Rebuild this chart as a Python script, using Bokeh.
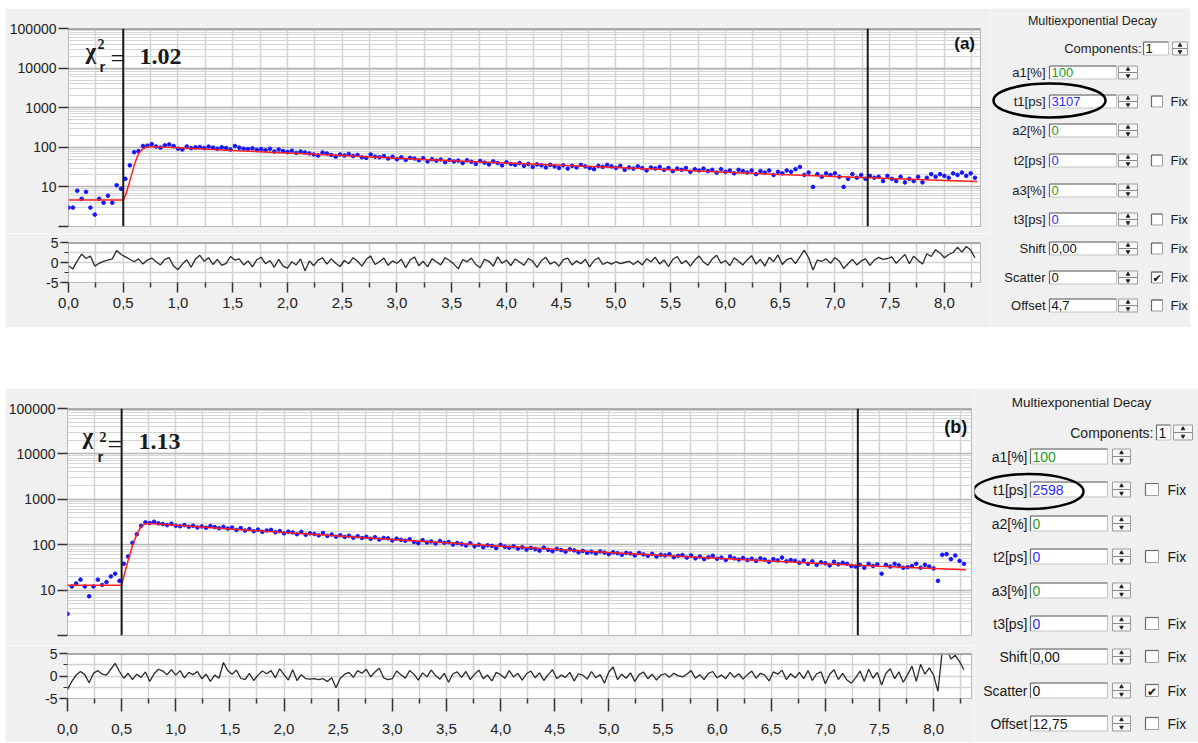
from bokeh.plotting import figure
from bokeh.models import Range1d, FixedTicker, Grid, Span, Label, Spacer, NumeralTickFormatter
from bokeh.layouts import column, row
from bokeh.embed import file_html
from bokeh.resources import INLINE
from bokeh.core.properties import value

# ---------------- data ----------------
channel_ns = 0.04

counts_a = [3, 3, 8, 5, 7.5, 3, 2, 5, 4, 6, 4, 11, 9,
            16, 35, 75, 80, 108, 110, 120, 105, 98, 112, 118, 108, 92,
            88, 105, 95, 100, 102, 95, 104, 98, 92, 100, 96, 88, 108,
            98, 92, 90, 94, 86, 90, 84, 92, 78, 88, 80, 76, 82,
            72, 78, 74, 70, 66, 62, 74, 70, 64, 58, 66, 62, 68,
            60, 64, 56, 54, 66, 58, 56, 60, 52, 58, 50, 56, 48,
            54, 52, 47, 53, 44, 50, 46, 49, 42, 48, 44, 46, 40,
            47, 43, 38, 45, 41, 37, 44, 40, 35, 42, 38, 36, 40,
            34, 38, 32, 37, 35, 31, 36, 33, 30, 35, 29, 34, 31,
            36, 33, 30, 28, 34, 32, 36, 33, 30, 34, 27, 31, 29,
            33, 30, 26, 31, 29, 32, 27, 30, 25, 29, 27, 30, 24,
            28, 26, 29, 25, 27, 23, 28, 24, 26, 22, 27, 25, 23,
            26, 21, 25, 23, 26, 20, 24, 22, 26, 24, 28, 32, 20,
            23, 10, 21, 18, 22, 20, 22, 18, 10, 16, 21, 17, 20,
            16, 19, 17, 18, 14, 19, 16, 14, 18, 13, 16, 14, 18,
            13, 17, 21, 18, 21, 19, 17, 22, 20, 23, 19, 22, 17]

counts_b = [3, 12, 14, 17, 12, 7.3, 12, 17, 13, 15, 20, 23, 16,
            38, 55, 110, 170, 260, 310, 300, 320, 295, 285, 270, 290, 262,
            255, 270, 248, 262, 240, 252, 236, 258, 244, 230, 248, 226, 238,
            210, 232, 205, 222, 198, 215, 192, 206, 212, 188, 200, 178, 194,
            186, 170, 192, 165, 178, 172, 160, 182, 156, 168, 150, 162, 148,
            158, 142, 154, 140, 149, 135, 146, 130, 141, 138, 124, 136, 128,
            122, 132, 115, 108, 126, 112, 118, 106, 121, 110, 114, 101, 109,
            104, 96, 108, 92, 100, 88, 97, 94, 84, 99, 90, 86, 92,
            82, 88, 78, 85, 80, 74, 86, 77, 72, 81, 76, 70, 79,
            75, 68, 73, 66, 70, 64, 71, 67, 62, 68, 65, 60, 66,
            64, 58, 66, 61, 57, 63, 55, 60, 58, 62, 53, 57, 59,
            52, 58, 50, 55, 48, 53, 57, 49, 52, 46, 55, 50, 47,
            51, 46, 49, 44, 50, 47, 42, 48, 45, 52, 43, 46, 44,
            40, 45, 38, 43, 36, 41, 39, 35, 42, 37, 40, 38, 34,
            33, 36, 31, 38, 34, 37, 23, 36, 33, 38, 35, 31, 32,
            34, 38, 31, 36, 33, 30, 16, 60, 62, 48, 58, 44, 38]

resid_a = [-0.8, -1.6, 0.4, 2.1, 1.0, 1.6, -0.9, -0.2, 0.3, 0.6, 0.9, 3.0, 2.0,
           1.4, 0.8, 0.2, 0.9, -0.4, 0.6, 1.1, 0.2, -0.6, 0.8, 1.2, -0.9, -1.8,
           -0.4, 0.7, -1.2, 0.9, 1.8, 0.3, 1.2, -0.5, 0.8, -0.7, -0.2, 1.5, 0.6,
           0.9, -0.6, 0.4, -1.1, 0.7, 1.3, -0.3, 0.5, -1.2, 0.8, -0.9, -1.4, 0.2,
           -0.6, 0.9, -2.1, 0.4, -0.8, 0.6, 1.2, -0.4, 0.9, -0.2, -1.0, 0.5, -0.3,
           1.2, 0.3, -0.9, 0.8, 1.6, -0.5, 0.2, 1.1, -0.7, 0.4, -0.2, 0.8, -1.3,
           0.6, 1.4, -0.8, 0.3, -1.1, 0.9, 0.2, -0.6, 1.2, 0.5, -0.4, -1.6, 0.7,
           0.2, 1.1, -0.5, -1.3, 0.8, 0.3, -0.9, 1.4, -0.2, 0.6, -0.8, 0.9, 0.1,
           -0.7, 1.0, 0.3, -1.2, 0.5, 1.3, -0.4, 0.2, -0.9, 0.7, 1.1, -0.6, 0.4,
           -0.3, 0.8, -1.1, 0.5, 1.2, -0.5, 0.1, -0.4, 0.2, -0.3, 0.0, 0.3, -0.5,
           0.4, -0.6, 0.9, 0.2, 1.3, -0.4, 0.6, -1.0, 0.8, 1.5, -0.3, 0.5, -0.9,
           0.6, 1.6, 0.1, -0.7, 0.9, 1.8, -0.2, 0.5, -0.8, 1.2, 0.3, -0.6, 0.7,
           1.7, -0.4, 0.8, -0.9, 1.3, 0.2, 1.9, -0.5, 0.7, 1.1, -0.3, 1.4, 3.1,
           1.2, -1.9, 0.6, 0.3, 0.9, -0.2, 1.2, 0.4, -1.5, -0.3, 0.8, -0.6, 0.4,
           0.9, -0.7, 0.6, 1.3, 0.8, 1.0, 1.4, -0.2, 0.9, 2.0, -0.3, 1.6, 0.5,
           -0.4, 2.2, 1.5, 3.2, 2.4, 1.2, 2.0, 2.5, 3.8, 2.6, 4.0, 3.1, 1.2]

resid_b = [-3.0, -1.2, 0.2, 1.0, 0.3, -1.5, 0.6, 1.2, 0.4, 0.2, 1.5, 2.8, 1.0,
           -0.5, 0.6, -0.8, 0.4, -0.3, 0.9, -1.2, 0.5, 1.5, 1.1, 0.3, 1.4, 0.2,
           1.2, -0.4, 0.8, 0.3, 1.0, -0.6, 0.4, -1.2, 0.2, -0.5, 3.0, 1.2, 0.4,
           1.3, -0.5, -0.8, 0.6, -1.0, 0.2, 1.1, 0.5, 1.2, -0.4, 1.6, 0.3, -0.9,
           1.4, -1.0, 0.3, -0.6, -0.7, -0.6, -0.8, -0.6, -1.2, -0.4, -2.6, -0.5, 0.4,
           0.8, -0.3, 1.2, 0.6, 1.5, -0.2, 0.9, 1.7, -0.4, -0.8, -0.6, 1.1, 0.3,
           -0.5, 1.2, 0.4, -0.9, 0.7, -0.2, 1.3, 0.1, -0.7, 0.6, -1.4, 0.5, 0.9,
           -0.3, 1.0, -0.8, 0.4, 1.3, -0.6, 0.2, -1.1, 0.8, 0.3, -0.5, 1.2, -0.2,
           0.6, -0.9, 0.5, 1.1, -0.4, 0.7, -1.0, 0.3, 1.4, -0.6, 0.2, -0.3, 0.8,
           -1.1, 0.5, 0.2, -0.7, 1.0, -0.4, 0.3, -1.6, 0.9, 2.0, -0.8, 0.4, -0.5,
           0.7, -1.2, 0.3, 0.9, -0.6, 0.4, -0.9, 0.2, 0.5, -0.3, 0.6, 0.1, -0.2,
           0.4, 1.2, -0.5, 0.3, -0.8, 0.6, 1.0, -0.4, 0.2, -0.6, 0.8, -0.3, 0.5,
           -0.7, 0.3, 1.1, -0.5, 0.6, 0.2, -1.1, 0.9, 0.4, 1.3, -0.8, 0.5, -0.4,
           0.8, -0.6, 1.2, -1.0, 0.5, 0.9, -1.7, 0.4, 1.4, -0.8, 0.6, -0.9, -1.6,
           -0.4, 1.1, -1.2, 1.5, -0.5, 0.8, -2.0, 0.6, 1.6, -0.6, 0.9, -1.4, 0.3,
           2.2, -1.2, 2.6, 0.4, 1.8, 0.2, -3.4, 5.6, 6.0, 3.8, 4.6, 3.2, 1.4]

fit_t = [0.0, 0.5, 0.52, 0.56, 0.6, 0.64, 0.68, 0.72, 0.76, 1.0, 1.5, 2.0, 2.5, 3.0,
         3.5, 4.0, 4.5, 5.0, 5.5, 6.0, 6.5, 7.0, 7.5, 8.0, 8.3]
fit_a = [4.7, 4.7, 6, 14, 35, 70, 92, 102, 104, 97, 83, 72, 62, 53,
         46, 40, 35, 31, 27, 23.5, 20.5, 18.2, 16.2, 14.5, 13.6]
fit_b = [12.75, 12.75, 20, 45, 95, 170, 250, 290, 292, 267, 222, 186, 156, 130,
         110, 93, 79, 67, 58, 50, 43.5, 38, 33.6, 30, 28.2]

cursors_ns = [0.5, 7.3]
chi2_a = "1.02"
chi2_b = "1.13"

x_ticks = [0.0, 0.5, 1.0, 1.5, 2.0, 2.5, 3.0, 3.5, 4.0, 4.5, 5.0, 5.5, 6.0, 6.5, 7.0, 7.5, 8.0]
x_tick_labels = ["0,0", "0,5", "1,0", "1,5", "2,0", "2,5", "3,0", "3,5", "4,0", "4,5",
                 "5,0", "5,5", "6,0", "6,5", "7,0", "7,5", "8,0"]
x_minor = [0.25, 0.75, 1.25, 1.75, 2.25, 2.75, 3.25, 3.75, 4.25, 4.75, 5.25, 5.75,
           6.25, 6.75, 7.25, 7.75, 8.25]
y_ticks = [1, 10, 100, 1000, 10000, 100000]
y_tick_labels = ["", "10", "100", "1000", "10000", "100000"]
res_ticks = [-5, 0, 5]
res_tick_labels = ["-5", "0", "5"]
res_minor = [-2.5, 2.5]

param_names = ["a1[%]", "t1[ps]", "a2[%]", "t2[ps]", "a3[%]", "t3[ps]", "Shift", "Scatter", "Offset"]
params_a = ["100", "3107", "0", "0", "0", "0", "0,00", "0", "4,7"]
params_b = ["100", "2598", "0", "0", "0", "0", "0,00", "0", "12,75"]
param_colors = ["#1e9b1e", "#2b2bff", "#1e9b1e", "#2b2bff", "#1e9b1e", "#2b2bff", "#111111", "#111111", "#111111"]
has_fix = [False, True, False, True, False, True, True, True, True]
fix_checked = [False, False, False, False, False, False, False, True, False]
components = "1"

# ---------------- styling ----------------
GRAY = "#f0f0f0"
FONT = "Liberation Sans"
SERIF = "Liberation Serif"
y_minor = [m * 10 ** k for k in range(5) for m in range(2, 10)]


def vgrid():
    return Grid(dimension=0, ticker=FixedTicker(ticks=x_ticks, minor_ticks=x_minor),
                grid_line_color="#d2d2d2", grid_line_width=1.5,
                minor_grid_line_color="#d2d2d2", minor_grid_line_width=1.5)


def make_main(width, height, bl, br, bt, bb, xr, counts, fitv, chi, tag, geo):
    t = [round(i * channel_ns, 3) for i in range(len(counts))]
    p = figure(width=width, height=height, x_range=xr, y_range=Range1d(1, 1e5),
               y_axis_type="log", x_axis_location=None, output_backend="svg",
               toolbar_location=None, min_border_left=bl, min_border_right=br,
               min_border_top=bt, min_border_bottom=bb, background_fill_color="white",
               border_fill_color=GRAY, outline_line_color="#b8b8b8")
    p.grid.visible = False
    p.add_layout(vgrid(), "center")
    p.add_layout(Grid(dimension=1, ticker=FixedTicker(ticks=y_ticks, minor_ticks=y_minor),
                      grid_line_color="#b4b4b4", grid_line_width=1.5,
                      minor_grid_line_color="#d6d6d6", minor_grid_line_width=1), "center")
    ya = p.yaxis[0]
    ya.ticker = FixedTicker(ticks=y_ticks, minor_ticks=[])
    ya.formatter = NumeralTickFormatter(format="0")
    ya.major_label_overrides = dict(zip(y_ticks, y_tick_labels))
    ya.major_tick_out = 10
    ya.major_tick_in = 0
    ya.minor_tick_line_color = None
    ya.axis_line_color = None
    ya.major_tick_line_color = "#333333"
    ya.major_tick_line_width = 1.5
    ya.major_label_text_font = FONT
    ya.major_label_text_font_size = "14px"
    ya.major_label_text_color = "#222222"
    ya.major_label_standoff = 2

    p.add_layout(Span(location=1e5, dimension="width", line_color="#a4a4a4", line_width=3))
    for c in cursors_ns:
        p.add_layout(Span(location=c, dimension="height", line_color="#1a1a1a", line_width=2))

    p.scatter(t, counts, size=3.6, color="#1414ff")
    p.line(fit_t, fitv, color="#ff1e1e", line_width=1.5)

    cx, cy = geo["chi"]
    p.add_layout(Label(x=cx, y=cy, text="χ", text_font=SERIF, text_font_style="bold",
                       text_font_size="23px", text_color="#1a1a1a"))
    p.add_layout(Label(x=cx, y=cy, x_offset=geo["sup"][0], y_offset=geo["sup"][1], text="2",
                       text_font=SERIF, text_font_size="14px", text_font_style="bold",
                       text_color="#1a1a1a"))
    p.add_layout(Label(x=cx, y=cy, x_offset=geo["sub"][0], y_offset=geo["sub"][1], text="r",
                       text_font=FONT, text_font_size="15px", text_font_style="bold",
                       text_color="#1a1a1a"))
    p.add_layout(Label(x=cx, y=cy, x_offset=geo["eq"][0], y_offset=geo["eq"][1], text="=",
                       text_font=SERIF, text_font_size="26px", text_color="#1a1a1a"))
    p.add_layout(Label(x=cx, y=cy, x_offset=geo["val"], y_offset=0, text=chi,
                       text_font=SERIF, text_font_size="24px", text_font_style="bold",
                       text_color="#1a1a1a"))
    tx, ty = geo["tag"]
    p.add_layout(Label(x=tx, y=ty, text=tag, text_align="right", text_font=FONT,
                       text_font_style="bold", text_font_size=geo["tag_fs"], text_color="#111111"))
    return p


def make_resid(width, height, bl, br, bt, bb, xr, resid, geo):
    t = [round(i * channel_ns, 3) for i in range(len(resid))]
    r = figure(width=width, height=height, x_range=xr, y_range=Range1d(-5, 5),
               output_backend="svg", toolbar_location=None, min_border_left=bl,
               min_border_right=br, min_border_top=bt, min_border_bottom=bb,
               background_fill_color="white", border_fill_color=GRAY,
               outline_line_color="#b8b8b8")
    r.grid.visible = False
    r.add_layout(vgrid(), "center")
    r.add_layout(Grid(dimension=1, ticker=FixedTicker(ticks=res_ticks, minor_ticks=res_minor),
                      grid_line_color="#d2d2d2", grid_line_width=1.5,
                      minor_grid_line_color="#d2d2d2", minor_grid_line_width=1.5), "center")
    r.add_layout(Span(location=5, dimension="width", line_color="#a4a4a4", line_width=3))
    r.line(t, resid, color="#2a2a2a", line_width=1.3)

    xa = r.xaxis[0]
    xa.ticker = FixedTicker(ticks=x_ticks, minor_ticks=x_minor)
    xa.major_label_overrides = dict(zip(x_ticks, x_tick_labels))
    xa.axis_line_color = None
    xa.major_tick_in = 0
    xa.major_tick_out = geo["xtick"]
    xa.minor_tick_in = 0
    xa.minor_tick_out = 5
    xa.major_tick_line_color = "#333333"
    xa.minor_tick_line_color = "#333333"
    xa.major_tick_line_width = 1.5
    xa.minor_tick_line_width = 1.5
    xa.major_label_text_font = FONT
    xa.major_label_text_font_size = "15px"
    xa.major_label_text_color = "#222222"
    xa.major_label_standoff = geo["xstand"]

    ya = r.yaxis[0]
    ya.ticker = FixedTicker(ticks=res_ticks, minor_ticks=res_minor)
    ya.major_label_overrides = dict(zip(res_ticks, res_tick_labels))
    ya.axis_line_color = None
    ya.major_tick_in = 0
    ya.major_tick_out = 8
    ya.minor_tick_in = 0
    ya.minor_tick_out = 4
    ya.major_tick_line_color = "#333333"
    ya.minor_tick_line_color = "#333333"
    ya.major_tick_line_width = 1.5
    ya.major_label_text_font = FONT
    ya.major_label_text_font_size = "14px"
    ya.major_label_text_color = "#222222"
    ya.major_label_standoff = 2

    r.add_layout(Label(x=0, y=-5, x_offset=geo["ns"][0], y_offset=geo["ns"][1], text="ns",
                       text_font=FONT, text_font_size="14px", text_color="#333333"))
    return r


def make_side(W, H, L, values):
    s = figure(width=W, height=H, x_range=Range1d(0, W), y_range=Range1d(H, 0),
               x_axis_location=None, y_axis_location=None, output_backend="svg",
               toolbar_location=None, min_border_left=0, min_border_right=0,
               min_border_top=0, min_border_bottom=0, background_fill_color=GRAY,
               border_fill_color=GRAY, outline_line_color=None)
    s.grid.visible = False
    fs = L["fs"]
    n = len(param_names)
    ys = L["rows_y"]
    bx0, bx1 = L["box_x"]
    bh = L["box_h"]
    sx0, sx1 = L["spin_x"]
    cx0, cx1 = L["chk_x"]
    tx, ty = L["title"]
    s.text(x=[tx], y=[ty], text=["Multiexponential Decay"], text_align="center",
           text_baseline="middle", text_font=value(FONT), text_font_size=L["title_fs"],
           text_color="#222222")

    # components
    clx, cly = L["comp_label"]
    s.text(x=[clx], y=[cly], text=["Components:"], text_align="right", text_baseline="middle",
           text_font=value(FONT), text_font_size=fs, text_color="#222222")
    cb0, cb1 = L["comp_box"]
    cs0, cs1 = L["comp_spin"]
    box_x0 = [bx0] * n + [cb0]
    box_x1 = [bx1] * n + [cb1]
    box_y = list(ys) + [cly]
    spin_x0 = [sx0] * n + [cs0]
    spin_x1 = [sx1] * n + [cs1]

    # text boxes (sunken)
    s.quad(left=box_x0, right=box_x1, top=[y - bh / 2 for y in box_y],
           bottom=[y + bh / 2 for y in box_y], fill_color="white", line_color="#c4c4c4")
    s.segment(x0=box_x0, y0=[y - bh / 2 for y in box_y], x1=box_x1,
              y1=[y - bh / 2 for y in box_y], line_color="#6a6a6a", line_width=1.2)
    s.segment(x0=box_x0, y0=[y - bh / 2 for y in box_y], x1=box_x0,
              y1=[y + bh / 2 for y in box_y], line_color="#6a6a6a", line_width=1.2)
    s.text(x=[x + 2 for x in box_x0], y=box_y, text=list(values) + [components],
           text_color=param_colors + ["#111111"], text_baseline="middle",
           text_font=value(FONT), text_font_size=fs)

    # spin buttons
    s.quad(left=spin_x0, right=spin_x1, top=[y - bh / 2 for y in box_y],
           bottom=[y + bh / 2 for y in box_y], fill_color="#f7f7f7", line_color="#9c9c9c")
    s.segment(x0=spin_x0, y0=box_y, x1=spin_x1, y1=box_y, line_color="#8a8a8a")
    sc = [(a + b) / 2 for a, b in zip(spin_x0, spin_x1)]
    s.scatter(x=sc, y=[y - bh / 4 for y in box_y], marker="triangle", size=3.5, color="#222222")
    s.scatter(x=sc, y=[y + bh / 4 for y in box_y], marker="inverted_triangle", size=3.5,
              color="#222222")

    # labels
    s.text(x=[L["label_r"]] * n, y=ys, text=param_names, text_align="right",
           text_baseline="middle", text_font=value(FONT), text_font_size=fs, text_color="#1a1a1a")

    # checkboxes
    fy = [y for y, f in zip(ys, has_fix) if f]
    ck = L["chk"]
    s.quad(left=[cx0] * len(fy), right=[cx1] * len(fy), top=[y - ck / 2 for y in fy],
           bottom=[y + ck / 2 for y in fy], fill_color="white", line_color="#a0a0a0")
    s.segment(x0=[cx0] * len(fy), y0=[y - ck / 2 for y in fy], x1=[cx1] * len(fy),
              y1=[y - ck / 2 for y in fy], line_color="#6a6a6a", line_width=1.2)
    s.segment(x0=[cx0] * len(fy), y0=[y - ck / 2 for y in fy], x1=[cx0] * len(fy),
              y1=[y + ck / 2 for y in fy], line_color="#6a6a6a", line_width=1.2)
    s.text(x=[L["fix_x"]] * len(fy), y=fy, text=["Fix"] * len(fy), text_baseline="middle",
           text_font=value(FONT), text_font_size=fs, text_color="#1a1a1a")
    cy = [y for y, f in zip(ys, fix_checked) if f]
    s.text(x=[(cx0 + cx1) / 2] * len(cy), y=[y + 1 for y in cy], text=["✔"] * len(cy),
           text_align="center", text_baseline="middle", text_font=value("DejaVu Sans"),
           text_font_size=L["chk_fs"], text_color="#111111")

    # highlight ellipse
    ex, ey, ew, eh = L["ellipse"]
    s.ellipse(x=[ex], y=[ey], width=ew, height=eh, fill_color=None, line_color="#000000",
              line_width=2.5)
    return s


# ---------------- panel (a) ----------------
xr_a = Range1d(0, 8.33)
geo_a = dict(chi=(0.155, 13000), sup=(12, 15), sub=(14, -11), eq=(25, -9), val=54,
             tag=(8.28, 23400), tag_fs="17px", xtick=10, xstand=5, ns=(-38, -30))
main_a = make_main(985, 225, 63, 10, 20, 7, xr_a, counts_a, fit_a, chi2_a, "(a)", geo_a)
resid_a_fig = make_resid(985, 94, 63, 10, 9, 45, xr_a, resid_a, geo_a)
side_a = make_side(200, 319, dict(
    fs="13px", title_fs="12.5px", title=(102, 12), comp_label=(151, 40), comp_box=(153, 178),
    comp_spin=(182, 197),
    rows_y=[64, 93, 122, 152, 182, 211, 240, 269, 297], box_x=(59, 126), box_h=13,
    spin_x=(128, 147), chk_x=(161, 172), chk=11, fix_x=180, label_r=55, chk_fs="11px",
    ellipse=(59, 92, 112, 34)), params_a)

# ---------------- panel (b) ----------------
xr_b = Range1d(0, 8.35)
geo_b = dict(chi=(0.139, 13150), sup=(17, 7), sub=(15, -16), eq=(25, -10), val=56,
             tag=(8.31, 24150), tag_fs="18px", xtick=13, xstand=12, ns=(-39, -38))
main_b = make_main(969, 257, 62, 3, 20, 10, xr_b, counts_b, fit_b, chi2_b, "(b)", geo_b)
resid_b_fig = make_resid(969, 97, 62, 3, 8, 44, xr_b, resid_b, geo_b)
side_b = make_side(224, 354, dict(
    fs="14px", title_fs="13.5px", title=(107, 14), comp_label=(179, 44), comp_box=(182, 196),
    comp_spin=(199, 218),
    rows_y=[68, 101, 135, 168, 202, 235, 268, 302, 335], box_x=(56, 133), box_h=15,
    spin_x=(138, 156), chk_x=(171, 184), chk=12, fix_x=193, label_r=53, chk_fs="12px",
    ellipse=(54, 103, 110, 35)), params_b)

layout = column(
    Spacer(width=10, height=8),
    row(Spacer(width=5, height=10), column(main_a, resid_a_fig, spacing=0), side_a, spacing=0),
    Spacer(width=10, height=61),
    row(Spacer(width=5, height=10), column(main_b, resid_b_fig, spacing=0), side_b, spacing=0),
    spacing=0,
)

open("out.html", "w").write(file_html(layout, INLINE))
